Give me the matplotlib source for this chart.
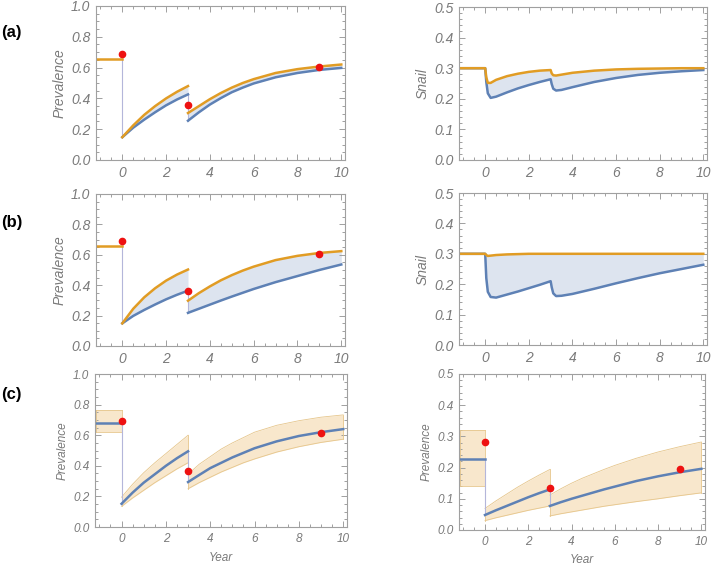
import matplotlib
matplotlib.use('Agg')
import matplotlib.pyplot as plt
from matplotlib.ticker import MultipleLocator

plt.rcParams['font.family'] = ['Liberation Sans', 'DejaVu Sans']

BLUE = '#5e81b5'
ORANGE = '#e19c24'
FILL = '#dde4ef'
BAND = '#f8e7cc'
BAND_EDGE = '#e6c68c'
LINK = '#b4b6da'
FRAME = '#a0a0a0'
TXT = '#7a7a7a'

# time grids
pre_t = [-1.15, 0]
t1 = [0, 0.5, 1, 1.5, 2, 2.5, 3]
t2 = [3, 3.5, 4, 4.5, 5, 5.5, 6, 7, 8, 9, 10]
snail_t = [-1.15, 0, 0.05, 0.12, 0.25, 0.5, 1, 1.5, 2, 2.5, 3, 3.05, 3.12, 3.25, 3.5,
           4, 5, 6, 7, 8, 9, 10]

# observed prevalence
obs_t = [0, 3, 9]
obs_a = [0.69, 0.36, 0.607]
obs_b = [0.69, 0.362, 0.604]
obs_c = [0.695, 0.366, 0.613]
obs_c_snail = [0.282, 0.134, 0.195]

# (a) human prevalence
a_pre = 0.655
a_hi1 = [0.148, 0.225, 0.293, 0.35, 0.40, 0.443, 0.48]
a_lo1 = [0.148, 0.21, 0.262, 0.31, 0.355, 0.393, 0.426]
a_hi2 = [0.305, 0.35, 0.395, 0.435, 0.47, 0.50, 0.525, 0.565, 0.59, 0.607, 0.62]
a_lo2 = [0.255, 0.31, 0.36, 0.402, 0.44, 0.47, 0.497, 0.537, 0.565, 0.585, 0.598]

# (a) snail
a_snail_hi = [0.3, 0.3, 0.27, 0.252, 0.252, 0.262, 0.274, 0.282, 0.288, 0.292, 0.294,
              0.283, 0.277, 0.276, 0.279, 0.285, 0.292, 0.296, 0.298, 0.299, 0.3, 0.3]
a_snail_lo = [0.3, 0.3, 0.255, 0.218, 0.203, 0.207, 0.221, 0.234, 0.245, 0.255, 0.264,
              0.248, 0.233, 0.227, 0.229, 0.238, 0.255, 0.268, 0.278, 0.285, 0.29, 0.294]

# (b) human prevalence
b_pre = 0.655
b_hi1 = [0.149, 0.245, 0.32, 0.38, 0.43, 0.47, 0.503]
b_lo1 = [0.149, 0.198, 0.237, 0.273, 0.307, 0.337, 0.364]
b_hi2 = [0.298, 0.348, 0.392, 0.432, 0.466, 0.496, 0.522, 0.565, 0.593, 0.612, 0.624]
b_lo2 = [0.218, 0.245, 0.272, 0.299, 0.325, 0.35, 0.375, 0.42, 0.46, 0.50, 0.536]

# (b) snail
b_snail_hi = [0.3, 0.3, 0.296, 0.293, 0.294, 0.296, 0.298, 0.299, 0.3, 0.3, 0.3,
              0.3, 0.3, 0.3, 0.3, 0.3, 0.3, 0.3, 0.3, 0.3, 0.3, 0.3]
b_snail_lo = [0.3, 0.3, 0.22, 0.175, 0.158, 0.156, 0.166, 0.176, 0.187, 0.198, 0.21,
              0.19, 0.17, 0.161, 0.162, 0.168, 0.185, 0.203, 0.22, 0.236, 0.25, 0.264]

# (c) human prevalence with band
c_pre = [0.682, 0.621, 0.766]
c_mid1 = [0.152, 0.225, 0.29, 0.345, 0.40, 0.45, 0.495]
c_lo1 = [0.135, 0.19, 0.24, 0.29, 0.335, 0.38, 0.42]
c_hi1 = [0.195, 0.28, 0.355, 0.42, 0.48, 0.54, 0.60]
c_mid2 = [0.294, 0.34, 0.385, 0.42, 0.455, 0.485, 0.515, 0.56, 0.595, 0.62, 0.64]
c_lo2 = [0.25, 0.29, 0.325, 0.36, 0.39, 0.42, 0.445, 0.49, 0.525, 0.553, 0.574]
c_hi2 = [0.345, 0.41, 0.46, 0.51, 0.55, 0.585, 0.62, 0.665, 0.695, 0.718, 0.733]

# (c) snail-adjusted prevalence with band
cs_pre = [0.228, 0.142, 0.322]
cs_mid1 = [0.048, 0.063, 0.077, 0.091, 0.105, 0.118, 0.13]
cs_lo1 = [0.03, 0.039, 0.047, 0.055, 0.063, 0.07, 0.077]
cs_hi1 = [0.069, 0.093, 0.115, 0.137, 0.157, 0.176, 0.194]
cs_mid2 = [0.077, 0.089, 0.1, 0.11, 0.12, 0.13, 0.139, 0.157, 0.172, 0.185, 0.196]
cs_lo2 = [0.045, 0.052, 0.058, 0.064, 0.07, 0.076, 0.081, 0.091, 0.1, 0.11, 0.119]
cs_hi2 = [0.112, 0.132, 0.15, 0.166, 0.18, 0.194, 0.207, 0.23, 0.25, 0.267, 0.282]


def style(ax, ymax, ymaj, ymin, fs, ylabel, lfs):
    ax.set_xlim(-1.2, 10.17)
    ax.set_ylim(0, ymax)
    ax.xaxis.set_major_locator(MultipleLocator(2))
    ax.xaxis.set_minor_locator(MultipleLocator(0.5))
    ax.yaxis.set_major_locator(MultipleLocator(ymaj))
    ax.yaxis.set_minor_locator(MultipleLocator(ymin))
    ax.yaxis.set_major_formatter(matplotlib.ticker.FormatStrFormatter('%.1f'))
    ax.tick_params(which='both', direction='in', top=True, right=True, color=FRAME,
                   labelcolor=TXT, labelsize=fs, width=0.7)
    ax.tick_params(which='major', length=4, pad=4)
    ax.tick_params(which='minor', length=2)
    for lab in ax.get_xticklabels() + ax.get_yticklabels():
        lab.set_fontstyle('italic')
    for s in ax.spines.values():
        s.set_color(FRAME)
        s.set_linewidth(0.8)
    ax.set_ylabel(ylabel, fontsize=lfs, color=TXT, style='italic', labelpad=3)


def human(ax, pre, hi1, lo1, hi2, lo2, obs):
    ax.fill_between(t1, lo1, hi1, color=FILL, lw=0)
    ax.fill_between(t2, lo2, hi2, color=FILL, lw=0)
    ax.plot([0, 0], [pre, hi1[0]], color=LINK, lw=0.8)
    ax.plot([3, 3], [lo1[-1], lo2[0]], color=LINK, lw=0.8)
    ax.plot(t1, lo1, color=BLUE, lw=1.8)
    ax.plot(t2, lo2, color=BLUE, lw=1.8)
    ax.plot(pre_t, [pre, pre], color=ORANGE, lw=1.8)
    ax.plot(t1, hi1, color=ORANGE, lw=1.8)
    ax.plot(t2, hi2, color=ORANGE, lw=1.8)
    ax.plot(obs_t, obs, 'o', color='#ee1111', ms=4.5, zorder=5)


def snail(ax, hi, lo):
    ax.fill_between(snail_t, lo, hi, color=FILL, lw=0)
    ax.plot(snail_t, lo, color=BLUE, lw=1.8)
    ax.plot(snail_t, hi, color=ORANGE, lw=1.8)


def band(ax, pre, mid1, lo1, hi1, mid2, lo2, hi2, obs):
    for t, lo, hi in [(pre_t, [pre[1]] * 2, [pre[2]] * 2), (t1, lo1, hi1), (t2, lo2, hi2)]:
        ax.fill_between(t, lo, hi, color=BAND, lw=0)
        ax.plot(t, lo, color=BAND_EDGE, lw=0.6)
        ax.plot(t, hi, color=BAND_EDGE, lw=0.6)
        ax.plot([t[0], t[0]], [lo[0], hi[0]], color=BAND_EDGE, lw=0.6)
        ax.plot([t[-1], t[-1]], [lo[-1], hi[-1]], color=BAND_EDGE, lw=0.6)
    ax.plot([0, 0], [pre[0], mid1[0]], color=LINK, lw=0.8)
    ax.plot([3, 3], [mid1[-1], mid2[0]], color=LINK, lw=0.8)
    ax.plot(pre_t, [pre[0], pre[0]], color=BLUE, lw=1.8)
    ax.plot(t1, mid1, color=BLUE, lw=1.8)
    ax.plot(t2, mid2, color=BLUE, lw=1.8)
    ax.plot(obs_t, obs, 'o', color='#ee1111', ms=4.5, zorder=5)


fig = plt.figure(figsize=(7.14, 5.70), dpi=100)

ax = fig.add_axes([0.1345, 0.7193, 0.3487, 0.2702])
human(ax, a_pre, a_hi1, a_lo1, a_hi2, a_lo2, obs_a)
style(ax, 1.0, 0.2, 0.05, 10, 'Prevalence', 10)

ax = fig.add_axes([0.6429, 0.7193, 0.3473, 0.2684])
snail(ax, a_snail_hi, a_snail_lo)
style(ax, 0.5, 0.1, 0.02, 10, 'Snail', 10)

ax = fig.add_axes([0.1345, 0.393, 0.3487, 0.2667])
human(ax, b_pre, b_hi1, b_lo1, b_hi2, b_lo2, obs_b)
style(ax, 1.0, 0.2, 0.05, 10, 'Prevalence', 10)

ax = fig.add_axes([0.6429, 0.3947, 0.3473, 0.2667])
snail(ax, b_snail_hi, b_snail_lo)
style(ax, 0.5, 0.1, 0.02, 10, 'Snail', 10)

ax = fig.add_axes([0.133, 0.0754, 0.353, 0.2684])
band(ax, c_pre, c_mid1, c_lo1, c_hi1, c_mid2, c_lo2, c_hi2, obs_c)
style(ax, 1.0, 0.2, 0.05, 8.5, 'Prevalence', 8.5)
ax.set_xlabel('Year', fontsize=8.5, color=TXT, style='italic', labelpad=5)

ax = fig.add_axes([0.6429, 0.0702, 0.3445, 0.2737])
band(ax, cs_pre, cs_mid1, cs_lo1, cs_hi1, cs_mid2, cs_lo2, cs_hi2, obs_c_snail)
style(ax, 0.5, 0.1, 0.02, 8.5, 'Prevalence', 8.5)
ax.set_xlabel('Year', fontsize=8.5, color=TXT, style='italic', labelpad=5)

for lab, y in [('(a)', 33), ('(b)', 223), ('(c)', 395)]:
    fig.text(0.002, 1 - y / 570, lab, fontsize=12, fontweight='bold', va='center', ha='left')

fig.savefig('out.png', dpi=100)
